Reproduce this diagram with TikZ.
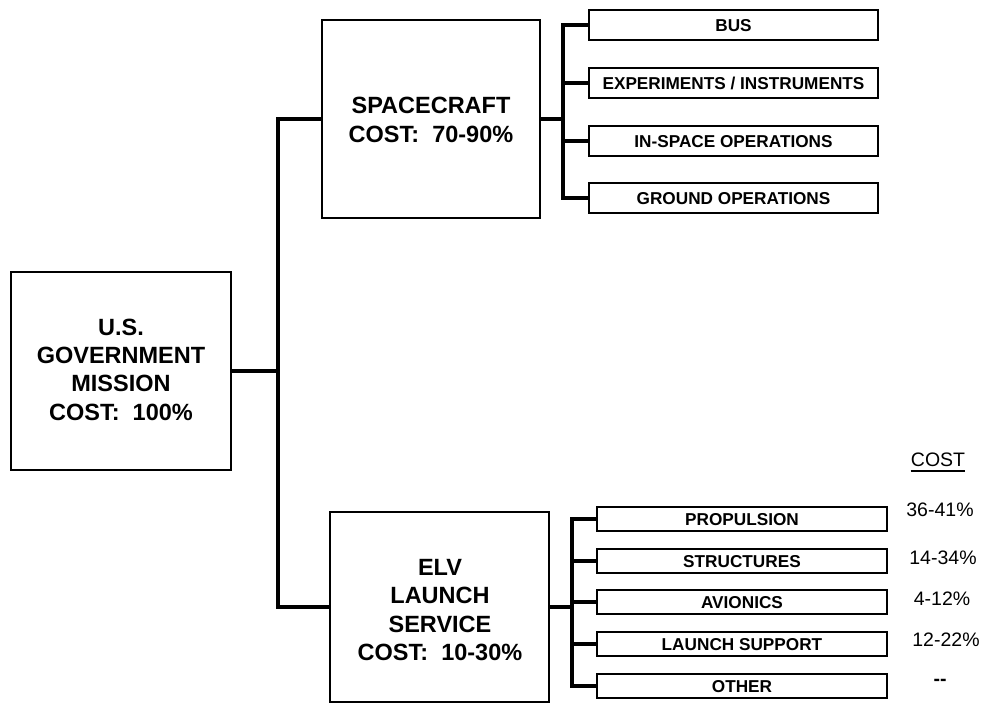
\documentclass[tikz,border=0pt]{standalone}
\usepackage{fontspec}
\setmainfont{Liberation Sans}
\begin{document}
\begin{tikzpicture}[x=1pt,y=-1pt,
  bigbox/.style={draw,line width=2.2pt,minimum width=#1,inner sep=0pt},
  bigbox/.default=219pt,
  bigtext/.style={align=center,inner sep=0pt,font=\fontsize{23.5}{28.3}\selectfont\bfseries},
  smallbox/.style={draw,line width=2.2pt,inner sep=0pt,minimum width=289pt,minimum height=#1,
    text height=12.5pt,text depth=0pt,font=\fontsize{17.2}{20}\selectfont\bfseries},
  conn/.style={line width=3.2pt,line cap=rect},
  costtext/.style={inner sep=0pt,text height=13.5pt,text depth=0pt,font=\fontsize{19.5}{22}\selectfont}]
\useasboundingbox (0,0) rectangle (983,706);
% main boxes
\node[bigbox=220pt,minimum height=198pt] (gov) at (121,371) {};
\node[bigtext] (govtext) at (121,369.5) {U.S.\\GOVERNMENT\\MISSION\\COST:\ \ 100\%};
\node[bigbox=218pt,minimum height=198pt] (sc) at (431,119) {};
\node[bigtext] (sctext) at (431,120) {SPACECRAFT\\COST:\ \ 70-90\%};
\node[bigbox=219pt,minimum height=190pt] (elv) at (439.5,607) {};
\node[bigtext] (elvtext) at (440,610) {ELV\\LAUNCH\\SERVICE\\COST:\ \ 10-30\%};
% spacecraft breakdown
\node[smallbox=30pt] (bus) at (733.5,25) {BUS};
\node[smallbox=30pt] (exp) at (733.5,83) {EXPERIMENTS / INSTRUMENTS};
\node[smallbox=30pt] (ins) at (733.5,141) {IN-SPACE OPERATIONS};
\node[smallbox=30pt] (gnd) at (733.5,198) {GROUND OPERATIONS};
% ELV breakdown
\node[smallbox=24pt,minimum width=290pt] (prop) at (742,519) {PROPULSION};
\node[smallbox=24pt,minimum width=290pt] (str) at (742,561) {STRUCTURES};
\node[smallbox=24pt,minimum width=290pt] (avi) at (742,602) {AVIONICS};
\node[smallbox=24pt,minimum width=290pt] (lsup) at (742,644) {LAUNCH SUPPORT};
\node[smallbox=24pt,minimum width=290pt] (oth) at (742,686) {OTHER};
% cost column
\node[costtext] (costhdr) at (938,460) {COST};
\draw[line width=1.8pt] ([yshift=-4.5pt]costhdr.base west) -- ([yshift=-4.5pt]costhdr.base east);
\node[costtext] (c1) at (940,510) {36-41\%};
\node[costtext] (c2) at (943,558) {14-34\%};
\node[costtext] (c3) at (942,599) {4-12\%};
\node[costtext] (c4) at (946,640) {12-22\%};
\node[inner sep=0pt,font=\fontsize{19.5}{22}\selectfont\bfseries] (c5) at (940,682) {-{}-};
% connectors
\coordinate (spineA) at (278,371);
\coordinate (spineB) at (563,119);
\coordinate (spineC) at (572,607);
\draw[conn] (gov.east) -- (spineA);
\draw[conn] (sc.west) -| (spineA) |- (elv.west);
\draw[conn] (sc.east) -- (spineB);
\draw[conn] (bus.west) -| (spineB) |- (gnd.west);
\draw[conn] (exp.west) -- (exp.west -| spineB);
\draw[conn] (ins.west) -- (ins.west -| spineB);
\draw[conn] (elv.east) -- (spineC);
\draw[conn] (prop.west) -| (spineC) |- (oth.west);
\draw[conn] (str.west) -- (str.west -| spineC);
\draw[conn] (avi.west) -- (avi.west -| spineC);
\draw[conn] (lsup.west) -- (lsup.west -| spineC);
\end{tikzpicture}
\end{document}
